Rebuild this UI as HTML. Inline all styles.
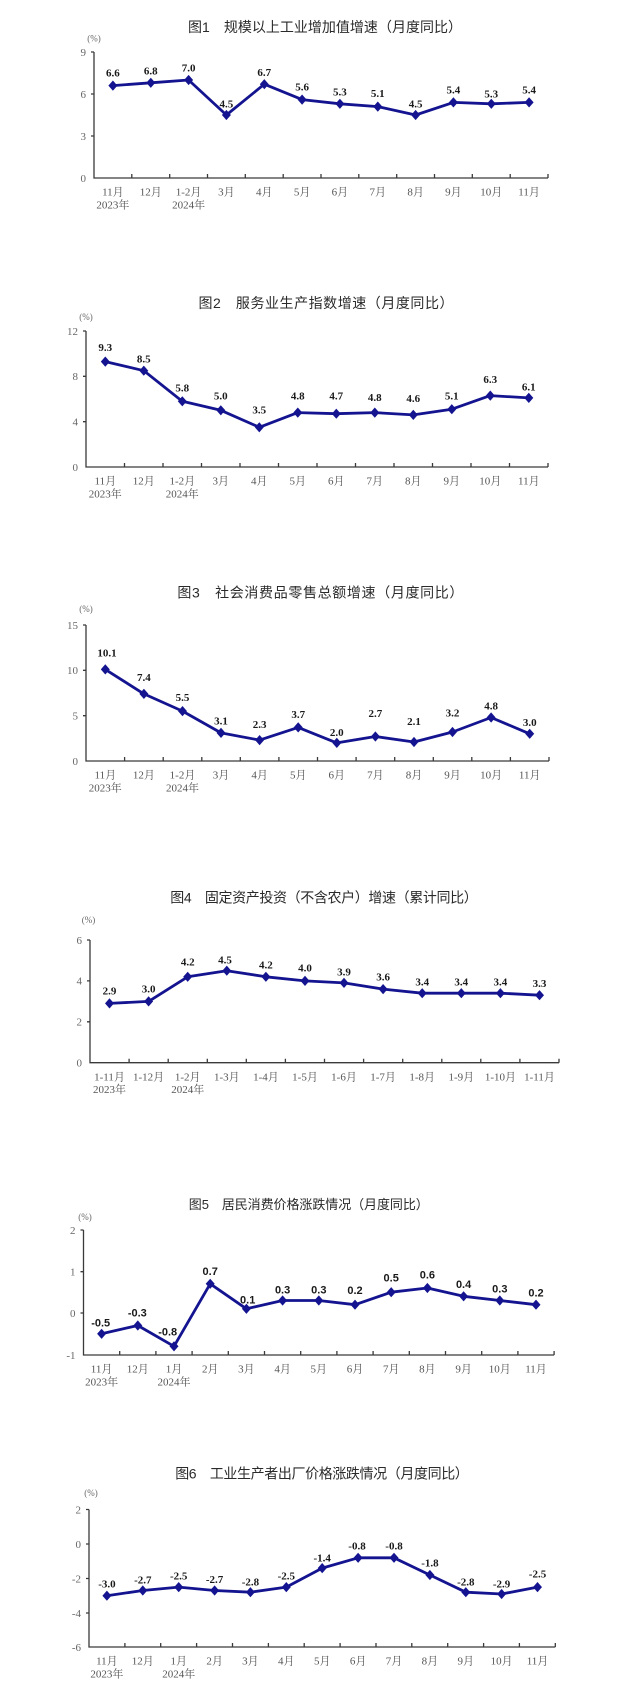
<!DOCTYPE html>
<html><head><meta charset="utf-8"><style>
html,body{margin:0;padding:0;background:#fff;}
svg{display:block;}
.t{font-family:"Liberation Sans","Noto Sans CJK SC",sans-serif;font-size:14px;fill:#2a2a2a;text-anchor:middle;}
.pc{font-family:"Liberation Serif","Noto Serif CJK SC",serif;font-size:9px;fill:#666;text-anchor:middle;}
.yt{font-family:"Liberation Serif","Noto Serif CJK SC",serif;font-size:11px;fill:#666;text-anchor:end;}
.xc{font-family:"Liberation Serif","Noto Serif CJK SC",serif;font-size:11px;fill:#555;text-anchor:middle;}
.dl{font-family:"Liberation Serif","Noto Serif CJK SC",serif;font-size:11px;font-weight:bold;fill:#1a1a1a;text-anchor:middle;}
.ds{font-family:"Liberation Sans","Noto Sans CJK SC",sans-serif;font-size:11px;font-weight:bold;fill:#1a1a1a;text-anchor:middle;}
.ax{fill:none;stroke:#3a3a3a;stroke-width:1.3;}
.ln{fill:none;stroke:#141490;stroke-width:2.8;stroke-linejoin:round;marker-start:url(#m);marker-mid:url(#m);marker-end:url(#m);}
</style></head><body>
<svg width="640" height="1700" viewBox="0 0 640 1700" xmlns="http://www.w3.org/2000/svg">
<defs>
<marker id="m" viewBox="-6 -6 12 12" markerWidth="12" markerHeight="12" refX="0" refY="0" markerUnits="userSpaceOnUse" orient="0">
<path d="M0,-5.1L4.5,0L0,5.1L-4.5,0Z" fill="#141490"/>
</marker>
</defs>
<rect width="640" height="1700" fill="#fff"/>

<!-- Chart 1 -->
<text class="t" x="325" y="32" textLength="274" lengthAdjust="spacing">图1　规模以上工业增加值增速（月度同比）</text>
<text class="pc" x="94" y="41.3">(%)</text>
<path class="ax" d="M94,52V178H548M91,52H94M91,94H94M91,136H94M131.8,178V174M169.7,178V174M207.5,178V174M245.3,178V174M283.2,178V174M321,178V174M358.8,178V174M396.7,178V174M434.5,178V174M472.3,178V174M510.2,178V174M548,178V174"/>
<text class="yt" x="86" y="55.8">9</text>
<text class="yt" x="86" y="97.8">6</text>
<text class="yt" x="86" y="139.8">3</text>
<text class="yt" x="86" y="181.8">0</text>
<polyline class="ln" points="112.9,85.6 150.8,82.8 188.6,80 226.4,115 264.3,84.2 302.1,99.6 339.9,103.8 377.8,106.6 415.6,115 453.4,102.4 491.3,103.8 529.1,102.4"/>
<text class="dl" x="112.9" y="76.4">6.6</text>
<text class="dl" x="150.8" y="74.7">6.8</text>
<text class="dl" x="188.6" y="71.4">7.0</text>
<text class="dl" x="226.4" y="107.7">4.5</text>
<text class="dl" x="264.3" y="76">6.7</text>
<text class="dl" x="302.1" y="90.4">5.6</text>
<text class="dl" x="339.9" y="95.4">5.3</text>
<text class="dl" x="377.8" y="97">5.1</text>
<text class="dl" x="415.6" y="107.7">4.5</text>
<text class="dl" x="453.4" y="93.7">5.4</text>
<text class="dl" x="491.3" y="97.7">5.3</text>
<text class="dl" x="529.1" y="93.7">5.4</text>
<text class="xc" x="112.9" y="195.7">11月</text>
<text class="xc" x="150.8" y="195.7">12月</text>
<text class="xc" x="188.6" y="195.7">1-2月</text>
<text class="xc" x="226.4" y="195.7">3月</text>
<text class="xc" x="264.3" y="195.7">4月</text>
<text class="xc" x="302.1" y="195.7">5月</text>
<text class="xc" x="339.9" y="195.7">6月</text>
<text class="xc" x="377.8" y="195.7">7月</text>
<text class="xc" x="415.6" y="195.7">8月</text>
<text class="xc" x="453.4" y="195.7">9月</text>
<text class="xc" x="491.3" y="195.7">10月</text>
<text class="xc" x="529.1" y="195.7">11月</text>
<text class="xc" x="112.9" y="208.3">2023年</text>
<text class="xc" x="188.6" y="208.3">2024年</text>

<!-- Chart 2 -->
<text class="t" x="326" y="308" textLength="255" lengthAdjust="spacing">图2　服务业生产指数增速（月度同比）</text>
<text class="pc" x="86" y="320">(%)</text>
<path class="ax" d="M86,331V467H548M83,331H86M83,376.3H86M83,421.7H86M124.5,467V463M163,467V463M201.5,467V463M240,467V463M278.5,467V463M317,467V463M355.5,467V463M394,467V463M432.5,467V463M471,467V463M509.5,467V463M548,467V463"/>
<text class="yt" x="78" y="334.8">12</text>
<text class="yt" x="78" y="380.1">8</text>
<text class="yt" x="78" y="425.5">4</text>
<text class="yt" x="78" y="470.8">0</text>
<polyline class="ln" points="105.3,361.6 143.8,370.7 182.3,401.3 220.8,410.3 259.3,427.3 297.8,412.6 336.3,413.7 374.8,412.6 413.3,414.9 451.8,409.2 490.3,395.6 528.8,397.9"/>
<text class="dl" x="105.3" y="351">9.3</text>
<text class="dl" x="143.8" y="362.4">8.5</text>
<text class="dl" x="182.3" y="391.4">5.8</text>
<text class="dl" x="220.8" y="399.7">5.0</text>
<text class="dl" x="259.3" y="413.7">3.5</text>
<text class="dl" x="297.8" y="399.7">4.8</text>
<text class="dl" x="336.3" y="399.7">4.7</text>
<text class="dl" x="374.8" y="401">4.8</text>
<text class="dl" x="413.3" y="402">4.6</text>
<text class="dl" x="451.8" y="399.7">5.1</text>
<text class="dl" x="490.3" y="383">6.3</text>
<text class="dl" x="528.8" y="390.4">6.1</text>
<text class="xc" x="105.3" y="484.7">11月</text>
<text class="xc" x="143.8" y="484.7">12月</text>
<text class="xc" x="182.3" y="484.7">1-2月</text>
<text class="xc" x="220.8" y="484.7">3月</text>
<text class="xc" x="259.3" y="484.7">4月</text>
<text class="xc" x="297.8" y="484.7">5月</text>
<text class="xc" x="336.3" y="484.7">6月</text>
<text class="xc" x="374.8" y="484.7">7月</text>
<text class="xc" x="413.3" y="484.7">8月</text>
<text class="xc" x="451.8" y="484.7">9月</text>
<text class="xc" x="490.3" y="484.7">10月</text>
<text class="xc" x="528.8" y="484.7">11月</text>
<text class="xc" x="105.3" y="497.3">2023年</text>
<text class="xc" x="182.3" y="497.3">2024年</text>

<!-- Chart 3 -->
<text class="t" x="320.4" y="597.3" textLength="286" lengthAdjust="spacing">图3　社会消费品零售总额增速（月度同比）</text>
<text class="pc" x="86" y="612">(%)</text>
<path class="ax" d="M86,625V761H549M83,625H86M83,670.3H86M83,715.7H86M124.6,761V757M163.2,761V757M201.8,761V757M240.3,761V757M278.9,761V757M317.5,761V757M356.1,761V757M394.7,761V757M433.3,761V757M471.8,761V757M510.4,761V757M549,761V757"/>
<text class="yt" x="78" y="628.8">15</text>
<text class="yt" x="78" y="674.1">10</text>
<text class="yt" x="78" y="719.5">5</text>
<text class="yt" x="78" y="764.8">0</text>
<polyline class="ln" points="105.3,669.4 143.9,693.9 182.5,711.1 221,732.9 259.6,740.1 298.2,727.4 336.8,742.9 375.4,736.5 414,742 452.5,732 491.1,717.5 529.7,733.8"/>
<text class="dl" x="107" y="656.4">10.1</text>
<text class="dl" x="143.9" y="680.9">7.4</text>
<text class="dl" x="182.5" y="700.8">5.5</text>
<text class="dl" x="221" y="724.6">3.1</text>
<text class="dl" x="259.6" y="727.8">2.3</text>
<text class="dl" x="298.2" y="717.8">3.7</text>
<text class="dl" x="336.8" y="735.9">2.0</text>
<text class="dl" x="375.4" y="717.2">2.7</text>
<text class="dl" x="414" y="725">2.1</text>
<text class="dl" x="452.5" y="716.7">3.2</text>
<text class="dl" x="491.1" y="709.5">4.8</text>
<text class="dl" x="529.7" y="725.8">3.0</text>
<text class="xc" x="105.3" y="778.7">11月</text>
<text class="xc" x="143.9" y="778.7">12月</text>
<text class="xc" x="182.5" y="778.7">1-2月</text>
<text class="xc" x="221" y="778.7">3月</text>
<text class="xc" x="259.6" y="778.7">4月</text>
<text class="xc" x="298.2" y="778.7">5月</text>
<text class="xc" x="336.8" y="778.7">6月</text>
<text class="xc" x="375.4" y="778.7">7月</text>
<text class="xc" x="414" y="778.7">8月</text>
<text class="xc" x="452.5" y="778.7">9月</text>
<text class="xc" x="491.1" y="778.7">10月</text>
<text class="xc" x="529.7" y="778.7">11月</text>
<text class="xc" x="105.3" y="791.3">2023年</text>
<text class="xc" x="182.5" y="791.3">2024年</text>

<!-- Chart 4 -->
<text class="t" x="324" y="902.3" textLength="307.5" lengthAdjust="spacing">图4　固定资产投资（不含农户）增速（累计同比）</text>
<text class="pc" x="88.5" y="923">(%)</text>
<path class="ax" d="M90,940V1062.7H559M87,940H90M87,980.9H90M87,1021.8H90M129.1,1062.7V1058.7M168.2,1062.7V1058.7M207.3,1062.7V1058.7M246.3,1062.7V1058.7M285.4,1062.7V1058.7M324.5,1062.7V1058.7M363.6,1062.7V1058.7M402.7,1062.7V1058.7M441.8,1062.7V1058.7M480.8,1062.7V1058.7M519.9,1062.7V1058.7M559,1062.7V1058.7"/>
<text class="yt" x="82" y="943.8">6</text>
<text class="yt" x="82" y="984.7">4</text>
<text class="yt" x="82" y="1025.6">2</text>
<text class="yt" x="82" y="1066.5">0</text>
<polyline class="ln" points="109.5,1003.4 148.6,1001.4 187.7,976.8 226.8,970.7 265.9,976.8 305,980.9 344,982.9 383.1,989.1 422.2,993.2 461.3,993.2 500.4,993.2 539.5,995.2"/>
<text class="dl" x="109.5" y="994.7">2.9</text>
<text class="dl" x="148.6" y="992.7">3.0</text>
<text class="dl" x="187.7" y="965.4">4.2</text>
<text class="dl" x="225" y="963.7">4.5</text>
<text class="dl" x="265.9" y="968.7">4.2</text>
<text class="dl" x="305" y="971.4">4.0</text>
<text class="dl" x="344" y="975.4">3.9</text>
<text class="dl" x="383.1" y="980.4">3.6</text>
<text class="dl" x="422.2" y="985.4">3.4</text>
<text class="dl" x="461.3" y="985.4">3.4</text>
<text class="dl" x="500.4" y="985.4">3.4</text>
<text class="dl" x="539.5" y="987">3.3</text>
<g style="font-size:10.5px">
<text class="xc" x="109.5" y="1080.4">1-11月</text>
<text class="xc" x="148.6" y="1080.4">1-12月</text>
<text class="xc" x="187.7" y="1080.4">1-2月</text>
<text class="xc" x="226.8" y="1080.4">1-3月</text>
<text class="xc" x="265.9" y="1080.4">1-4月</text>
<text class="xc" x="305" y="1080.4">1-5月</text>
<text class="xc" x="344" y="1080.4">1-6月</text>
<text class="xc" x="383.1" y="1080.4">1-7月</text>
<text class="xc" x="422.2" y="1080.4">1-8月</text>
<text class="xc" x="461.3" y="1080.4">1-9月</text>
<text class="xc" x="500.4" y="1080.4">1-10月</text>
<text class="xc" x="539.5" y="1080.4">1-11月</text>
</g>
<text class="xc" x="109.5" y="1093">2023年</text>
<text class="xc" x="187.7" y="1093">2024年</text>

<!-- Chart 5 -->
<text class="t" x="308.8" y="1209" textLength="240" lengthAdjust="spacing" style="font-size:13px">图5　居民消费价格涨跌情况（月度同比）</text>
<text class="pc" x="85" y="1220">(%)</text>
<path class="ax" d="M83.5,1230V1355H554.1M80.5,1230H83.5M80.5,1271.7H83.5M80.5,1313H83.5M119.7,1355V1351M155.9,1355V1351M192.1,1355V1351M228.3,1355V1351M264.5,1355V1351M300.7,1355V1351M336.9,1355V1351M373.1,1355V1351M409.3,1355V1351M445.5,1355V1351M481.7,1355V1351M517.9,1355V1351M554.1,1355V1351"/>
<text class="yt" x="75.5" y="1233.8">2</text>
<text class="yt" x="75.5" y="1275.5">1</text>
<text class="yt" x="75.5" y="1316.8">0</text>
<text class="yt" x="75.5" y="1358.8">-1</text>
<polyline class="ln" points="101.6,1333.8 137.8,1325.5 174,1346.3 210.2,1283.8 246.4,1308.8 282.6,1300.5 318.8,1300.5 355,1304.7 391.2,1292.2 427.4,1288 463.6,1296.3 499.8,1300.5 536,1304.7"/>
<text class="ds" x="100.7" y="1326.3">-0.5</text>
<text class="ds" x="137.3" y="1316.3">-0.3</text>
<text class="ds" x="167.7" y="1335.7">-0.8</text>
<text class="ds" x="210.2" y="1275">0.7</text>
<text class="ds" x="247.7" y="1303.3">0.1</text>
<text class="ds" x="282.6" y="1293.3">0.3</text>
<text class="ds" x="318.8" y="1293.3">0.3</text>
<text class="ds" x="355" y="1294">0.2</text>
<text class="ds" x="391.2" y="1281.7">0.5</text>
<text class="ds" x="427.4" y="1278.3">0.6</text>
<text class="ds" x="463.6" y="1288">0.4</text>
<text class="ds" x="499.8" y="1292.7">0.3</text>
<text class="ds" x="536" y="1296.7">0.2</text>
<text class="xc" x="101.6" y="1372.7">11月</text>
<text class="xc" x="137.8" y="1372.7">12月</text>
<text class="xc" x="174" y="1372.7">1月</text>
<text class="xc" x="210.2" y="1372.7">2月</text>
<text class="xc" x="246.4" y="1372.7">3月</text>
<text class="xc" x="282.6" y="1372.7">4月</text>
<text class="xc" x="318.8" y="1372.7">5月</text>
<text class="xc" x="355" y="1372.7">6月</text>
<text class="xc" x="391.2" y="1372.7">7月</text>
<text class="xc" x="427.4" y="1372.7">8月</text>
<text class="xc" x="463.6" y="1372.7">9月</text>
<text class="xc" x="499.8" y="1372.7">10月</text>
<text class="xc" x="536" y="1372.7">11月</text>
<text class="xc" x="101.6" y="1385.3">2023年</text>
<text class="xc" x="174" y="1385.3">2024年</text>

<!-- Chart 6 -->
<text class="t" x="322" y="1478.3" textLength="293.6" lengthAdjust="spacing">图6　工业生产者出厂价格涨跌情况（月度同比）</text>
<text class="pc" x="91" y="1496">(%)</text>
<path class="ax" d="M89,1509.5V1647H555.3M86,1509.5H89M86,1544H89M86,1578.5H89M86,1613H89M124.9,1647V1643M160.7,1647V1643M196.6,1647V1643M232.5,1647V1643M268.4,1647V1643M304.2,1647V1643M340.1,1647V1643M376,1647V1643M411.8,1647V1643M447.7,1647V1643M483.6,1647V1643M519.4,1647V1643M555.3,1647V1643"/>
<text class="yt" x="81" y="1513.3">2</text>
<text class="yt" x="81" y="1547.8">0</text>
<text class="yt" x="81" y="1582.3">-2</text>
<text class="yt" x="81" y="1616.8">-4</text>
<text class="yt" x="81" y="1650.8">-6</text>
<polyline class="ln" points="106.9,1595.7 142.8,1590.5 178.7,1587.1 214.6,1590.5 250.4,1592.2 286.3,1587.1 322.2,1568.1 358.1,1557.8 394,1557.8 429.9,1575 465.8,1592.2 501.6,1594 537.5,1587.1"/>
<text class="dl" x="106.9" y="1587.7">-3.0</text>
<text class="dl" x="142.8" y="1583.7">-2.7</text>
<text class="dl" x="178.7" y="1579.7">-2.5</text>
<text class="dl" x="214.6" y="1583">-2.7</text>
<text class="dl" x="250.4" y="1585.4">-2.8</text>
<text class="dl" x="286.3" y="1579.7">-2.5</text>
<text class="dl" x="322.2" y="1561.4">-1.4</text>
<text class="dl" x="357" y="1549.4">-0.8</text>
<text class="dl" x="394" y="1549.4">-0.8</text>
<text class="dl" x="429.9" y="1566.4">-1.8</text>
<text class="dl" x="465.8" y="1585.4">-2.8</text>
<text class="dl" x="501.6" y="1587.7">-2.9</text>
<text class="dl" x="537.5" y="1577.7">-2.5</text>
<text class="xc" x="106.9" y="1664.7">11月</text>
<text class="xc" x="142.8" y="1664.7">12月</text>
<text class="xc" x="178.7" y="1664.7">1月</text>
<text class="xc" x="214.6" y="1664.7">2月</text>
<text class="xc" x="250.4" y="1664.7">3月</text>
<text class="xc" x="286.3" y="1664.7">4月</text>
<text class="xc" x="322.2" y="1664.7">5月</text>
<text class="xc" x="358.1" y="1664.7">6月</text>
<text class="xc" x="394" y="1664.7">7月</text>
<text class="xc" x="429.9" y="1664.7">8月</text>
<text class="xc" x="465.8" y="1664.7">9月</text>
<text class="xc" x="501.6" y="1664.7">10月</text>
<text class="xc" x="537.5" y="1664.7">11月</text>
<text class="xc" x="106.9" y="1677.3">2023年</text>
<text class="xc" x="178.7" y="1677.3">2024年</text>
</svg>
</body></html>
